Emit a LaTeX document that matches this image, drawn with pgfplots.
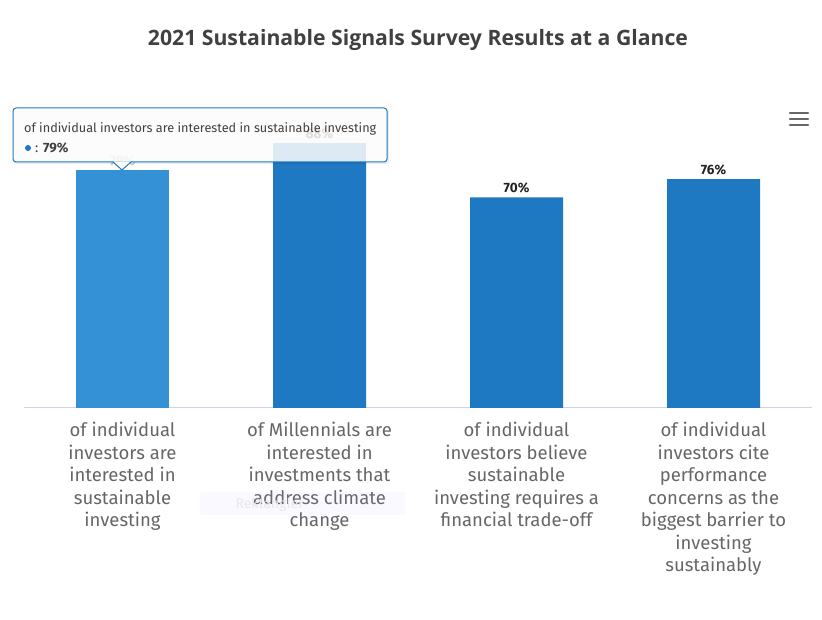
\documentclass[border=0pt]{standalone}
\usepackage{pgfplots}
\pgfplotsset{compat=1.18}
\usepackage{fontspec}
\setmainfont{Fira Sans}
\newfontfamily\titlefont{Open Sans}
\definecolor{barblue}{HTML}{1F78C2}
\definecolor{barhover}{HTML}{3591D6}
\definecolor{titlegray}{HTML}{404040}
\definecolor{labelgray}{HTML}{666666}
\definecolor{axisline}{HTML}{CCD6EB}
\definecolor{valtext}{HTML}{222222}
\begin{document}
\begin{tikzpicture}
\path[use as bounding box] (0pt,0pt) rectangle (822pt,620pt);
\begin{axis}[
  at={(122.5pt,212pt)}, anchor=origin,
  scale only axis, width=788pt, height=301pt,
  ymin=0, ymax=100, xmin=-0.5, xmax=3.5,
  axis x line=bottom, axis y line=none,
  axis line style={color=axisline, line width=1pt, -},
  xtick={0,1,2,3}, major tick length=0pt, ytick=\empty,
  xticklabels={
    {of individual\\investors are\\interested in\\sustainable\\investing},
    {of Millennials are\\interested in\\investments that\\address climate\\change},
    {of individual\\investors believe\\sustainable\\investing requires a\\financial trade-off},
    {of individual\\investors cite\\performance\\concerns as the\\biggest barrier to\\investing\\sustainably}},
  xticklabel style={align=center, font=\fontsize{18.5}{22.5}\selectfont,
    text=labelgray, anchor=north, yshift=-11pt},
  ybar, bar width=93pt, bar shift=0pt,
  /pgf/number format/assume math mode=true,
  nodes near coords={\pgfmathprintnumber{\pgfplotspointmeta}\%},
  nodes near coords style={font=\fontsize{13.5}{15}\selectfont\bfseries, text=valtext, yshift=1pt},
  clip=false,
]
\addplot[fill=barhover, draw=none, nodes near coords style={text=black!22}] coordinates {(0,79)};
\addplot[fill=barblue, draw=none] coordinates {(1,88) (2,70) (3,76)};
\end{axis}
% title
\node[text=titlegray, font=\fontsize{21.2}{25}\selectfont\titlefont\bfseries] at (418pt,580pt)
  {2021 Sustainable Signals Survey Results at a Glance};
% faint watermark
\fill[blue!40, opacity=0.06] (200pt,105pt) rectangle (405pt,128pt);
\node[text=black!9, font=\fontsize{14}{16}\selectfont, anchor=west] at (232pt,115pt) {Rektangler};
% tooltip
\fill[black, opacity=0.08, rounded corners=3pt] (14pt,456pt) rectangle (389pt,511pt);
\filldraw[fill=white, fill opacity=0.85, draw=barblue, line width=1pt, rounded corners=3pt]
  (13pt,458pt) rectangle (387pt,512pt);
\fill[white] (113pt,458.5pt) -- (122pt,450pt) -- (131pt,458.5pt) -- cycle;
\draw[barblue, line width=1pt] (113pt,458pt) -- (122pt,450pt) -- (131pt,458pt);
\node[anchor=base west, text=titlegray, font=\fontsize{12.7}{14}\selectfont, inner sep=0pt]
  at (24pt,487pt) {of individual investors are interested in sustainable investing};
\fill[barblue] (28pt,472pt) circle (3pt);
\node[anchor=base west, text=titlegray, font=\fontsize{13.5}{15}\selectfont, inner sep=0pt]
  at (35pt,467pt) {: \textbf{79\%}};
% menu icon
\foreach \yy in {507,501,495}
  \draw[labelgray, line width=2.6pt, line cap=round] (790pt,\yy pt) -- (808pt,\yy pt);
\end{tikzpicture}
\end{document}
